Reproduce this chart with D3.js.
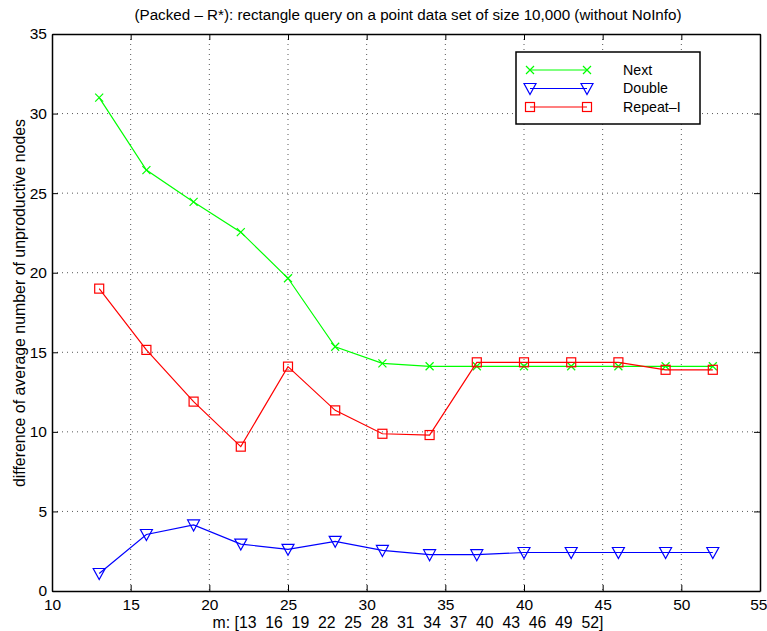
<!DOCTYPE html>
<html>
<head>
<meta charset="utf-8">
<script src="https://cdn.jsdelivr.net/npm/d3@7"></script>
<style>
  html, body { margin: 0; padding: 0; background: #fff; }
  svg { display: block; font-family: "Liberation Sans", Arial, Helvetica, sans-serif; }
</style>
</head>
<body>
<svg id="chart" width="767" height="631"></svg>
<script>
// Node-size parameter m and per-strategy differences (Packed - R*)
const mValues = [13, 16, 19, 22, 25, 28, 31, 34, 37, 40, 43, 46, 49, 52];
const nextValues = [31.0, 26.45, 24.45, 22.55, 19.65, 15.35, 14.3, 14.12, 14.12, 14.12, 14.12, 14.12, 14.12, 14.12];
const doubleValues = [1.1, 3.55, 4.15, 2.95, 2.62, 3.12, 2.55, 2.28, 2.28, 2.42, 2.42, 2.42, 2.42, 2.42];
const repeatValues = [19.0, 15.15, 11.9, 9.07, 14.1, 11.35, 9.88, 9.8, 14.37, 14.37, 14.37, 14.37, 13.9, 13.9];

const xTicks = [10, 15, 20, 25, 30, 35, 40, 45, 50, 55];
const yTicks = [0, 5, 10, 15, 20, 25, 30, 35];

const titleText = "(Packed \u2013 R*): rectangle query on a point data set of size 10,000 (without NoInfo)";
const xLabelText = "m: [13  16  19  22  25  28  31  34  37  40  43  46  49  52]";
const yLabelText = "difference of average number of unproductive nodes";

const series = [
  { name: "Next", values: nextValues, color: "#00ff00", marker: "x" },
  { name: "Double", values: doubleValues, color: "#0000ff", marker: "tri" },
  { name: "Repeat\u2013I", values: repeatValues, color: "#ff0000", marker: "sq" }
];

const svg = d3.select("#chart");
const plotLeft = 52, plotRight = 760, plotTop = 34, plotBottom = 591;

const x = d3.scaleLinear().domain([10, 55]).range([plotLeft, plotRight]);
const y = d3.scaleLinear().domain([0, 35]).range([plotBottom, plotTop]);

// dotted grid
const grid = svg.append("g").attr("stroke", "#000").attr("stroke-width", 1)
  .attr("stroke-dasharray", "1,4").attr("opacity", 0.65);
xTicks.slice(1, -1).forEach(t => {
  grid.append("line").attr("x1", x(t)).attr("x2", x(t)).attr("y1", plotTop).attr("y2", plotBottom);
});
yTicks.slice(1, -1).forEach(t => {
  grid.append("line").attr("x1", plotLeft).attr("x2", plotRight).attr("y1", y(t)).attr("y2", y(t));
});

// axes with inward ticks on all four sides
const tickLen = 6;
const axB = svg.append("g").attr("transform", `translate(0,${plotBottom})`)
  .call(d3.axisBottom(x).tickValues(xTicks).tickSizeInner(-tickLen).tickSizeOuter(0).tickPadding(8));
const axL = svg.append("g").attr("transform", `translate(${plotLeft},0)`)
  .call(d3.axisLeft(y).tickValues(yTicks).tickSizeInner(-tickLen).tickSizeOuter(0).tickPadding(5));
const axT = svg.append("g").attr("transform", `translate(0,${plotTop})`)
  .call(d3.axisTop(x).tickValues(xTicks).tickSizeInner(-tickLen).tickSizeOuter(0).tickFormat(""));
const axR = svg.append("g").attr("transform", `translate(${plotRight},0)`)
  .call(d3.axisRight(y).tickValues(yTicks).tickSizeInner(-tickLen).tickSizeOuter(0).tickFormat(""));
[axB, axL, axT, axR].forEach(a => {
  a.select(".domain").attr("stroke", "#000").attr("stroke-width", 1.5);
  a.selectAll(".tick line").attr("stroke", "#000");
  a.selectAll("text").attr("font-size", 15.5).attr("fill", "#000")
    .attr("font-family", "Liberation Sans, Arial, sans-serif");
});
// keep the last x label inside the page edge
axB.selectAll(".tick text").filter(d => d === 55).attr("text-anchor", "end").attr("x", 7);

function drawMarker(g, type, cx, cy, color) {
  if (type === "x") {
    const s = 4;
    g.append("path").attr("d", `M${cx - s},${cy - s}L${cx + s},${cy + s}M${cx - s},${cy + s}L${cx + s},${cy - s}`)
      .attr("stroke", color).attr("stroke-width", 1.2).attr("fill", "none");
  } else if (type === "tri") {
    const w = 6, h = 5;
    g.append("path").attr("d", `M${cx - w},${cy - h}L${cx + w},${cy - h}L${cx},${cy + h + 1}Z`)
      .attr("stroke", color).attr("stroke-width", 1.2).attr("fill", "none");
  } else {
    const s = 4.5;
    g.append("rect").attr("x", cx - s).attr("y", cy - s).attr("width", 2 * s).attr("height", 2 * s)
      .attr("stroke", color).attr("stroke-width", 1.2).attr("fill", "none");
  }
}

const line = d3.line().x(d => x(d[0])).y(d => y(d[1]));
series.forEach(s => {
  const pts = mValues.map((m, i) => [m, s.values[i]]);
  const g = svg.append("g");
  g.append("path").attr("d", line(pts)).attr("stroke", s.color).attr("stroke-width", 1.2).attr("fill", "none");
  pts.forEach(p => drawMarker(g, s.marker, x(p[0]), y(p[1]), s.color));
});

// legend
const lg = svg.append("g");
lg.append("rect").attr("x", 516).attr("y", 52).attr("width", 184).attr("height", 72)
  .attr("fill", "#fff").attr("stroke", "#000").attr("stroke-width", 1.5);
series.forEach((s, i) => {
  const ly = 70 + i * 18.5;
  lg.append("line").attr("x1", 530).attr("x2", 587).attr("y1", ly).attr("y2", ly)
    .attr("stroke", s.color).attr("stroke-width", 1.2);
  drawMarker(lg, s.marker, 530, ly, s.color);
  drawMarker(lg, s.marker, 587, ly, s.color);
  lg.append("text").attr("x", 623).attr("y", ly).attr("dy", "0.35em")
    .attr("font-size", 14.2).attr("fill", "#000").text(s.name);
});

// titles
svg.append("text").attr("x", 408).attr("y", 20).attr("text-anchor", "middle")
  .attr("font-size", 15.2).attr("fill", "#000").text(titleText);
svg.append("text").attr("x", 408).attr("y", 628).attr("text-anchor", "middle")
  .attr("font-size", 15.8).attr("fill", "#000").style("white-space", "pre").attr("xml:space", "preserve").text(xLabelText);
svg.append("text").attr("transform", `translate(25,303) rotate(-90)`)
  .attr("text-anchor", "middle").attr("font-size", 15.9).attr("fill", "#000").text(yLabelText);
</script>
</body>
</html>
